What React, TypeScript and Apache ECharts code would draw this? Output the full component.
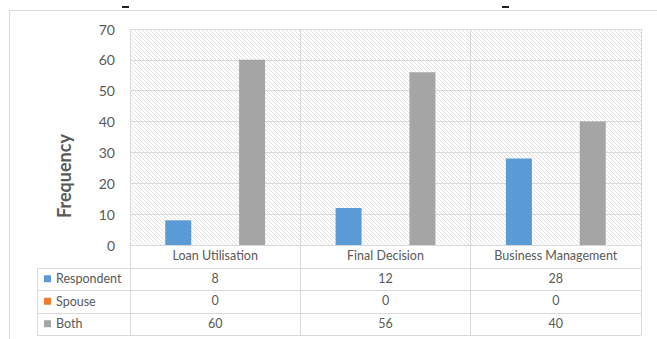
import React, { useEffect, useRef } from "react";
import * as echarts from "echarts";

// Survey results: who takes each decision
const categories = ["Loan Utilisation", "Final Decision", "Business Management"];
const seriesNames = ["Respondent", "Spouse", "Both"];
const respondent = [8, 12, 28];
const spouse = [0, 0, 0];
const both = [60, 56, 40];
const yTicks = { min: 0, max: 70, interval: 10 };

const COLORS = ["#5B9BD5", "#ED7D31", "#A5A5A5"];
const TEXT = "#595959";
const LINE = "#D9D9D9";
const FONT = "Lato, 'Noto Sans', sans-serif";
const TABLE_FS = 12.5;

// plot / table layout
const GRID = { left: 130, top: 29, width: 511, height: 216 };
const ROW_H = 22.5;
const TABLE_LEFT = 37;

const hatchSvg =
  "data:image/svg+xml;charset=utf-8," +
  encodeURIComponent(
    "<svg xmlns='http://www.w3.org/2000/svg' width='4' height='4'>" +
      "<rect width='4' height='4' fill='#ffffff'/>" +
      "<path d='M-1,-1L5,5M-1,3L1,5M3,-1L5,1' stroke='#e2e2e2' stroke-width='1'/>" +
      "</svg>"
  );

export default function App() {
  const ref = useRef<HTMLDivElement>(null);

  useEffect(() => {
    if (!ref.current) return;
    const chart = echarts.init(ref.current, null, { renderer: "svg" });

    const axisBottom = GRID.top + GRID.height;
    const tableRight = GRID.left + GRID.width;
    const rowLines = [1, 2, 3, 4].map((i) => axisBottom + ROW_H * i);

    const valueRows = [respondent, spouse, both].map((vals, i) => ({
      type: "category" as const,
      gridIndex: 0,
      position: "bottom" as const,
      offset: ROW_H * (i + 1),
      data: vals.map(String),
      axisLine: { show: false },
      axisTick: { show: false },
      splitLine: { show: false },
      axisLabel: { color: TEXT, fontSize: TABLE_FS, fontFamily: FONT, margin: 4 },
    }));

    const lineEl = (x1: number, y1: number, x2: number, y2: number) => ({
      type: "line",
      shape: { x1, y1, x2, y2 },
      style: { stroke: LINE, lineWidth: 1 },
      silent: true,
    });

    chart.setOption({
      animation: false,
      textStyle: { fontFamily: FONT },
      grid: {
        ...GRID,
        show: true,
        borderWidth: 0,
        backgroundColor: {
          image: hatchSvg,
          repeat: "repeat",
          imageWidth: 4,
          imageHeight: 4,
        },
      },
      legend: {
        orient: "vertical",
        left: 44,
        top: axisBottom + ROW_H * 1.5 - 8,
        itemWidth: 7,
        itemHeight: 7,
        itemGap: ROW_H - 16,
        icon: "rect",
        padding: 0,
        selectedMode: false,
        textStyle: { color: TEXT, fontSize: TABLE_FS, fontFamily: FONT, lineHeight: 16 },
        data: seriesNames,
      },
      xAxis: [
        {
          type: "category",
          data: categories,
          axisLine: { show: true, lineStyle: { color: LINE } },
          axisTick: {
            show: true,
            length: ROW_H * 4,
            interval: 0,
            lineStyle: { color: LINE },
          },
          splitLine: { show: true, interval: 0, lineStyle: { color: LINE } },
          axisLabel: { color: TEXT, fontSize: TABLE_FS, fontFamily: FONT, margin: 4 },
        },
        ...valueRows,
      ],
      yAxis: {
        type: "value",
        ...yTicks,
        axisLine: { show: false },
        axisTick: { show: false },
        splitLine: { lineStyle: { color: LINE } },
        axisLabel: { color: TEXT, fontSize: 14, fontFamily: FONT, margin: 15 },
      },
      series: [respondent, spouse, both].map((vals, i) => ({
        name: seriesNames[i],
        type: "bar",
        data: vals,
        barWidth: 26,
        barGap: "42%",
        itemStyle: { color: COLORS[i] },
      })),
      graphic: [
        // outer chart frame
        lineEl(9, 10.5, 657, 10.5),
        lineEl(9.5, 10, 9.5, 339),
        // data table rules
        ...rowLines.map((y) => lineEl(TABLE_LEFT, Math.round(y) + 0.5, tableRight, Math.round(y) + 0.5)),
        lineEl(TABLE_LEFT + 0.5, Math.round(rowLines[0]), TABLE_LEFT + 0.5, Math.round(rowLines[3])),
        // clipped title fragments above the frame
        { type: "rect", shape: { x: 122, y: 6, width: 7, height: 2 }, style: { fill: "#222" } },
        { type: "rect", shape: { x: 502, y: 6, width: 7, height: 2 }, style: { fill: "#222" } },
        {
          type: "text",
          x: 64,
          y: 176,
          rotation: Math.PI / 2,
          style: {
            text: "Frequency",
            fill: TEXT,
            font: `bold 18px ${FONT}`,
            align: "center",
            verticalAlign: "middle",
          },
        },
      ],
    });

    return () => chart.dispose();
  }, []);

  return (
    <div
      ref={ref}
      style={{ position: "fixed", left: 0, top: 0, width: 657, height: 339, background: "#fff" }}
    />
  );
}
